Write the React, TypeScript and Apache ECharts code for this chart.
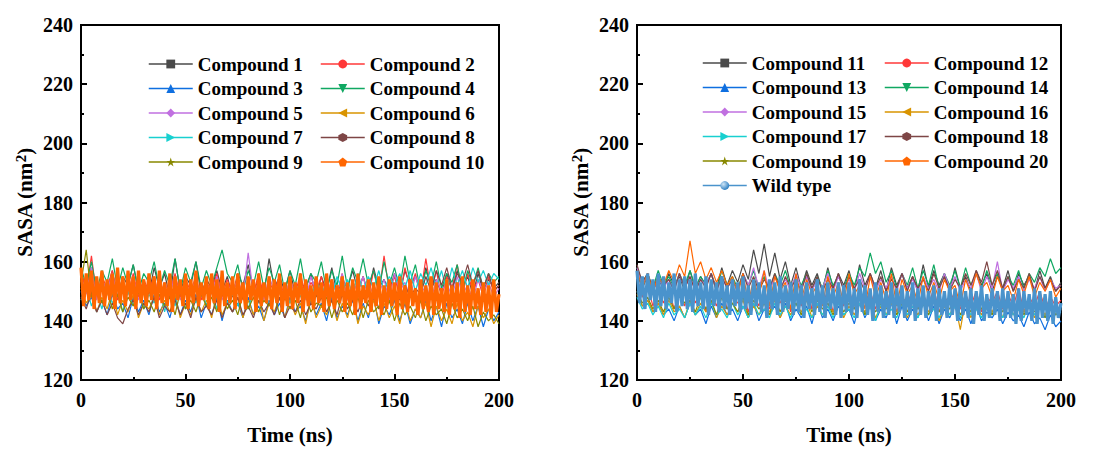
import React, { useEffect, useRef } from "react";
import * as echarts from "echarts";

const FONT = "Liberation Serif";

const namesLeft = ["Compound 1","Compound 2","Compound 3","Compound 4","Compound 5","Compound 6","Compound 7","Compound 8","Compound 9","Compound 10"];
const namesRight = ["Compound 11","Compound 12","Compound 13","Compound 14","Compound 15","Compound 16","Compound 17","Compound 18","Compound 19","Compound 20","Wild type"];

const colors = ["#4a4a4a","#ff3838","#0f6fe0","#10a862","#c070e0","#d99400","#18d0d0","#7e4646","#888800","#ff6600"];
const wildColor = "#4a93cc";

const symbols = [
  "rect",
  "circle",
  "triangle",
  "path://M0,0 L10,0 L5,9 Z",
  "diamond",
  "path://M0,5 L9,0 L9,10 Z",
  "path://M0,0 L9,5 L0,10 Z",
  "path://M5,0 L9.33,2.5 L9.33,7.5 L5,10 L0.67,7.5 L0.67,2.5 Z",
  "path://M5,0 L6.2,3.6 L10,3.6 L6.9,5.8 L8.1,9.5 L5,7.2 L1.9,9.5 L3.1,5.8 L0,3.6 L3.8,3.6 Z",
  "path://M5,0 L10,3.8 L8.1,10 L1.9,10 L0,3.8 Z",
];

// SASA (nm^2) read from the trajectories over 0-200 ns
const c1 = [156,151,158,149,154,150,157,148,155,152,159,150,153,149,158,151,156,148,161,150,155,152,160,149,154,151,157,150,155,148,156,152,159,150,154,149,161,151,155,150,157,149,153,151,156,148,155,150,158,149,154,151,157,150,155,149,158,151,154,150,156,149,157,152,155,150,158,151,154,149,156,150,157,151,155,149,156,150,154,151,153];
const c2 = [157,150,162,148,155,151,157,147,153,149,156,148,154,150,155,147,153,149,156,148,154,150,155,147,153,150,156,148,154,149,155,147,152,149,156,148,153,150,155,147,154,149,156,148,153,150,155,148,154,149,156,147,153,150,155,148,157,149,162,150,155,148,158,151,156,149,161,150,157,148,155,151,159,149,156,150,154,148,155,150,152];
const c3 = [150,145,148,143,147,142,149,144,146,141,148,143,147,142,149,143,146,141,148,142,147,143,149,141,146,142,148,140,147,143,146,141,148,142,145,140,147,142,146,141,148,143,145,140,147,142,146,140,148,141,145,142,147,140,146,141,148,139,145,142,147,140,146,139,144,141,147,140,145,138,146,141,144,139,146,140,145,138,144,140,143];
const c4 = [158,152,160,150,157,153,161,151,158,152,159,150,156,153,160,151,157,152,161,150,158,153,160,151,157,152,158,164,156,153,159,150,157,152,160,151,158,153,159,150,157,152,161,151,156,153,160,150,157,152,162,151,158,153,161,152,157,150,160,152,158,151,162,153,159,150,157,152,160,151,156,153,159,150,157,152,158,151,156,153,155];
const c5 = [155,149,158,147,154,150,156,148,153,149,155,147,152,150,154,148,153,149,155,147,152,150,154,148,153,149,155,147,152,150,154,148,163,149,153,147,155,150,152,148,154,149,153,147,155,150,152,148,154,149,156,147,153,150,155,148,152,149,154,147,156,150,153,148,155,149,152,147,154,150,153,148,155,149,152,147,154,150,153,148,151];
const c6 = [151,146,149,143,148,144,150,142,147,143,149,141,146,144,148,142,147,143,149,141,146,142,148,143,147,141,149,142,146,143,148,141,147,142,149,140,146,143,148,141,147,142,146,139,148,141,145,142,147,140,146,141,148,139,145,142,147,140,146,141,145,139,147,140,144,141,146,138,145,140,144,139,146,140,143,138,145,141,144,139,142];
const c7 = [147,152,145,150,144,151,146,149,143,150,145,152,144,149,146,151,143,150,145,152,144,149,146,151,145,150,144,152,146,149,145,151,144,150,146,152,145,149,147,151,146,153,148,152,147,154,149,153,148,155,150,154,149,156,150,155,151,157,150,155,152,156,151,157,150,156,152,158,151,157,150,158,152,157,151,158,153,157,152,156,154];
const c8 = [148,144,150,143,147,142,146,141,139,144,147,142,146,143,148,141,145,143,147,142,146,141,148,143,145,142,147,141,146,143,148,142,145,141,147,143,146,142,148,141,145,143,147,142,146,144,148,143,147,142,149,144,147,143,148,145,150,144,149,146,151,147,152,148,151,149,155,150,157,152,158,151,156,153,159,152,157,151,156,150,152];
const c9 = [153,164,148,152,146,150,144,149,143,148,145,150,144,147,143,149,145,148,142,150,144,147,143,149,145,148,143,150,144,147,142,149,144,148,143,147,145,149,142,148,144,147,141,149,143,146,145,148,141,147,143,146,142,148,141,147,143,145,142,147,140,146,142,145,141,147,140,145,142,144,139,146,141,144,140,145,138,143,140,142,139];
const c10 = [
  158,145,156,147,157,144,155,146,157,145,154,147,156,144,158,146,155,145,157,147,
  155,144,157,146,154,145,156,147,155,144,157,146,153,145,156,143,155,147,154,145,
  156,144,154,146,157,145,153,147,155,144,156,146,154,143,157,145,153,146,155,144,
  156,146,153,144,155,147,154,143,156,145,153,146,155,144,154,146,156,143,153,145,
  155,144,153,146,156,143,154,145,152,144,155,146,153,143,156,145,154,144,152,146,
  155,143,153,145,154,142,156,144,152,146,154,143,153,145,155,142,152,144,154,145,
  153,142,155,144,152,143,154,145,151,142,154,144,152,143,155,142,153,144,151,143,
  154,142,152,144,153,141,155,143,152,142,154,144,151,142,153,143,152,141,154,143,149,
];

const c11 = [156,151,155,150,154,151,156,152,155,150,157,151,155,152,156,151,158,152,157,153,159,154,164,156,166,155,163,154,160,152,158,151,157,152,156,150,158,151,156,152,157,150,159,152,156,151,157,150,158,152,156,151,155,150,159,151,157,152,156,150,158,151,155,150,157,152,156,150,155,151,157,150,156,152,155,150,157,151,155,150,153];
const c12 = [155,148,152,145,150,146,151,144,149,145,152,146,150,143,149,145,151,144,148,146,150,143,149,145,151,144,148,146,150,143,149,145,152,144,148,146,150,143,149,145,151,144,148,146,150,144,149,145,151,143,148,146,150,144,149,145,151,143,148,146,150,144,149,145,150,143,148,146,150,144,149,145,151,143,148,145,150,144,148,145,147];
const c13 = [150,145,147,143,146,142,144,140,145,141,146,142,144,139,145,141,146,142,144,140,145,141,146,140,144,142,145,141,146,140,144,141,145,139,146,141,144,140,145,142,144,139,146,141,145,140,144,141,146,139,145,140,144,141,146,140,145,139,144,141,145,140,144,139,145,140,143,141,144,139,143,140,142,138,143,139,141,137,142,138,140];
const c14 = [158,153,156,151,157,152,155,151,156,152,157,151,155,152,156,150,157,152,155,151,156,152,157,151,155,150,156,152,157,151,155,152,156,150,155,151,157,152,155,151,156,152,158,155,163,156,160,153,157,151,156,152,158,151,157,152,159,151,156,152,157,151,158,152,156,151,157,152,156,150,155,152,157,151,156,153,158,155,161,156,158];
const c15 = [158,152,156,150,155,151,154,150,156,151,155,150,154,152,156,150,155,151,154,150,156,152,158,151,157,150,155,151,154,150,156,151,155,150,154,151,156,150,155,151,154,150,156,151,155,150,154,151,155,150,156,151,154,150,155,151,154,150,156,151,155,150,154,151,156,150,155,151,160,150,154,151,155,150,154,151,155,150,154,151,152];
const c16 = [149,145,147,143,146,142,147,143,145,141,147,142,146,143,147,141,145,142,146,143,147,141,145,142,146,143,147,141,145,142,146,143,147,141,145,142,146,143,147,141,145,142,146,143,147,141,145,142,146,143,147,141,145,142,146,143,147,140,145,142,146,137,147,141,145,142,146,143,147,141,145,142,146,143,147,141,145,142,146,143,144];
const c17 = [148,144,146,142,145,141,146,142,144,141,146,142,145,141,146,142,144,141,146,142,145,141,146,142,144,141,146,142,145,141,146,142,144,141,146,142,145,141,146,142,144,141,146,142,145,140,146,142,144,141,146,142,145,141,146,142,144,141,146,142,145,141,146,142,144,141,146,142,145,141,146,142,144,141,146,142,145,141,146,142,143];
const c18 = [159,153,156,151,155,152,154,150,156,151,155,150,154,151,156,150,155,151,154,150,156,151,155,150,154,151,156,150,155,151,154,150,156,151,155,150,154,151,156,150,155,151,154,150,156,151,155,150,154,151,156,150,155,151,154,150,156,151,155,150,154,151,156,152,157,153,160,152,157,151,155,150,154,151,156,150,155,151,154,150,152];
const c19 = [150,146,148,144,147,143,148,144,149,146,147,143,148,144,147,142,148,144,146,143,148,142,147,144,146,142,148,143,147,144,146,142,148,143,147,144,146,142,147,143,146,144,148,142,147,143,146,144,147,142,146,143,148,144,146,142,147,143,146,144,147,142,146,143,148,144,146,142,147,143,146,144,147,142,146,143,145,141,146,142,144];
const c20 = [157,151,156,150,155,152,157,153,159,155,167,156,160,154,158,153,157,152,155,149,156,146,154,148,157,145,155,150,153,144,156,147,154,149,152,145,155,148,153,146,156,149,152,144,155,148,153,147,156,145,154,149,152,146,155,148,153,147,154,150,152,145,154,149,156,151,153,148,155,150,152,147,154,149,155,148,153,150,154,148,151];
const wild = [
  157,146,155,144,156,147,154,143,156,145,155,144,153,146,156,143,154,145,155,144,
  154,143,156,145,153,144,155,142,154,145,153,143,155,144,152,142,154,145,153,143,
  155,144,152,142,154,145,153,143,152,141,154,144,153,142,155,143,152,144,153,142,
  154,143,152,141,153,144,151,142,154,143,152,141,153,144,151,142,153,141,152,143,
  153,142,151,141,154,143,152,142,151,140,153,143,152,141,150,142,153,141,151,143,
  152,141,150,142,153,140,151,142,152,141,150,143,152,140,151,142,150,141,152,142,
  151,140,152,142,150,141,151,139,150,142,152,140,149,141,151,142,150,140,151,141,
  150,141,149,139,151,140,150,142,149,140,151,139,150,141,149,140,150,139,148,141,146,
];

const leftData = [c1,c2,c3,c4,c5,c6,c7,c8,c9,c10];
const rightData = [c11,c12,c13,c14,c15,c16,c17,c18,c19,c20,wild];

const xTicks = [0, 200, 50];
const yTicks = [120, 240, 20];

function pairs(arr: number[]) {
  return arr.map((v, i) => [(i * 200) / (arr.length - 1), v]);
}

const axisLabelStyle = { fontFamily: FONT, fontWeight: "bold", fontSize: 20, color: "#000" };

function xAxis(gridIndex: number) {
  return {
    type: "value", gridIndex, min: xTicks[0], max: xTicks[1], interval: xTicks[2],
    name: "Time (ns)", nameLocation: "middle", nameGap: 44,
    nameTextStyle: { fontFamily: FONT, fontWeight: "bold", fontSize: 21, color: "#000" },
    axisLine: { show: true, lineStyle: { color: "#000", width: 2 } },
    axisTick: { show: true, inside: true, length: 6, lineStyle: { color: "#000", width: 2 } },
    minorTick: { show: true, splitNumber: 2, length: 3, lineStyle: { color: "#000", width: 2 } },
    axisLabel: { ...axisLabelStyle, margin: 10, showMaxLabel: true, showMinLabel: true },
    splitLine: { show: false },
  };
}
function yAxis(gridIndex: number) {
  return {
    type: "value", gridIndex, min: yTicks[0], max: yTicks[1], interval: yTicks[2],
    name: "{a|SASA (nm}{b|2}{a|)}", nameLocation: "middle", nameGap: 44,
    nameTextStyle: {
      fontFamily: FONT, fontWeight: "bold", fontSize: 21, color: "#000",
      rich: {
        a: { fontFamily: FONT, fontWeight: "bold", fontSize: 21, color: "#000", lineHeight: 24 },
        b: { fontFamily: FONT, fontWeight: "bold", fontSize: 15, color: "#000", verticalAlign: "top", lineHeight: 24 },
      },
    },
    axisLine: { show: true, lineStyle: { color: "#000", width: 2 } },
    axisTick: { show: true, inside: true, length: 6, lineStyle: { color: "#000", width: 2 } },
    minorTick: { show: true, splitNumber: 2, length: 3, lineStyle: { color: "#000", width: 2 } },
    axisLabel: { ...axisLabelStyle, margin: 8 },
    splitLine: { show: false },
  };
}

function legend(names: string[], left: number, top: number) {
  return {
    orient: "vertical", left, top, itemWidth: 44, itemHeight: 11, itemGap: 4.5,
    selectedMode: false,
    textStyle: { fontFamily: FONT, fontWeight: "bold", fontSize: 19, color: "#000", lineHeight: 20 },
    lineStyle: { width: 1.5 },
    data: names.map((n) =>
      n === "Wild type"
        ? {
            name: n,
            itemStyle: {
              color: new echarts.graphic.RadialGradient(0.35, 0.35, 0.7, [
                { offset: 0, color: "#cfe6f7" },
                { offset: 1, color: "#2a7cc0" },
              ]),
            },
          }
        : n
    ),
  };
}

export default function App() {
  const ref = useRef<HTMLDivElement>(null);
  useEffect(() => {
    if (!ref.current) return;
    const chart = echarts.init(ref.current, null, { renderer: "svg" });
    const series: any[] = [];
    leftData.forEach((arr, i) => {
      const w = i === 9 ? 3.2 : 1.2;
      series.push({
        type: "line", name: namesLeft[i], xAxisIndex: 0, yAxisIndex: 0,
        data: pairs(arr), showSymbol: false, symbol: symbols[i], symbolSize: 10,
        lineStyle: { width: w, color: colors[i], join: "bevel" }, itemStyle: { color: colors[i] },
      });
    });
    rightData.forEach((arr, i) => {
      const c = i < 10 ? colors[i] : wildColor;
      const w = i === 10 ? 3.2 : 1.2;
      series.push({
        type: "line", name: namesRight[i], xAxisIndex: 1, yAxisIndex: 1,
        data: pairs(arr), showSymbol: false, symbol: i < 10 ? symbols[i] : "circle", symbolSize: 10,
        lineStyle: { width: w, color: c, join: "bevel" }, itemStyle: { color: c },
      });
    });
    chart.setOption({
      animation: false,
      backgroundColor: "#fff",
      grid: [
        { left: 81, top: 25, width: 418, height: 362, show: true, borderColor: "#000", borderWidth: 2, backgroundColor: "transparent" },
        { left: 637, top: 25, width: 424, height: 362, show: true, borderColor: "#000", borderWidth: 2, backgroundColor: "transparent" },
      ],
      xAxis: [xAxis(0), xAxis(1)],
      yAxis: [yAxis(0), yAxis(1)],
      legend: [
        legend([namesLeft[0], namesLeft[2], namesLeft[4], namesLeft[6], namesLeft[8]], 143, 49),
        legend([namesLeft[1], namesLeft[3], namesLeft[5], namesLeft[7], namesLeft[9]], 315, 49),
        legend([namesRight[0], namesRight[2], namesRight[4], namesRight[6], namesRight[8], namesRight[10]], 697, 48),
        legend([namesRight[1], namesRight[3], namesRight[5], namesRight[7], namesRight[9]], 879, 48),
      ],
      series,
    });
    return () => chart.dispose();
  }, []);
  return <div ref={ref} style={{ position: "fixed", left: 0, top: 0, width: 1110, height: 450 }} />;
}
